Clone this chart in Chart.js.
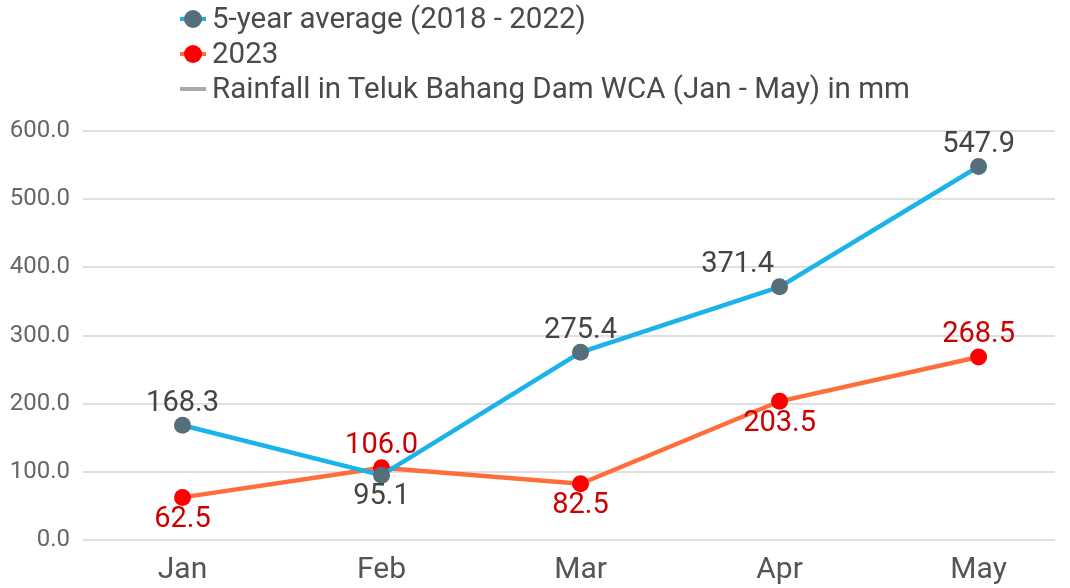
<!DOCTYPE html>
<html>
<head>
<meta charset="utf-8">
<script src="https://cdn.jsdelivr.net/npm/chart.js@4/dist/chart.umd.min.js"></script>
<style>
  html, body { margin: 0; padding: 0; background: #fff; }
  #wrap { position: relative; width: 1070px; height: 588px; }
  #legend { position: absolute; left: 178px; top: 1px; font-family: Roboto, sans-serif; font-size: 29.5px; color: #4a4a4a; }
  .row { height: 35px; line-height: 35px; display: flex; align-items: center; }
  .mark { position: relative; width: 30px; height: 22px; margin-right: 4px; }
  .mark .ln { position: absolute; left: 2px; right: 2px; top: 9px; height: 4px; }
  .mark .dot { position: absolute; left: 6px; top: 2px; width: 18px; height: 18px; border-radius: 50%; }
</style>
</head>
<body>
<div id="wrap">
  <canvas id="chart" width="1070" height="588"></canvas>
  <div id="legend"></div>
</div>
<script>
// dados do gráfico
const meses = ['Jan', 'Feb', 'Mar', 'Apr', 'May'];
const media5anos = [168.3, 95.1, 275.4, 371.4, 547.9];
const ano2023 = [62.5, 106.0, 82.5, 203.5, 268.5];
const ticksY = [0, 100, 200, 300, 400, 500, 600];

const nomes = ['5-year average (2018 - 2022)', '2023', 'Rainfall in Teluk Bahang Dam WCA (Jan - May) in mm'];

// posição dos rótulos de valor (acima / abaixo)
const posMedia = ['up', 'down', 'up', 'upleft', 'up'];
const pos2023 = ['down', 'up', 'down', 'down', 'up'];

// legenda em HTML, uma linha por série
const legenda = document.getElementById('legend');
legenda.innerHTML = `
  <div class="row"><div class="mark"><div class="ln" style="background:#1ab3ea"></div><div class="dot" style="background:#546e7a"></div></div>${nomes[0]}</div>
  <div class="row"><div class="mark"><div class="ln" style="background:#ff6d3a"></div><div class="dot" style="background:#ff0000"></div></div>${nomes[1]}</div>
  <div class="row"><div class="mark"><div class="ln" style="background:#aaaaaa"></div></div>${nomes[2]}</div>
`;

const rotulos = {
    id: 'rotulos',
    afterDatasetsDraw(chart) {
        const ctx = chart.ctx;
        ctx.save();
        ctx.font = '29px Roboto, sans-serif';
        ctx.textAlign = 'center';
        ctx.textBaseline = 'middle';
        [[0, posMedia, '#444444'], [1, pos2023, '#cc0000']].forEach(([i, posicoes, cor]) => {
            const meta = chart.getDatasetMeta(i);
            meta.data.forEach((pt, j) => {
                const v = chart.data.datasets[i].data[j].y;
                let x = pt.x, y = pt.y;
                if (posicoes[j] === 'up') y -= 22;
                else if (posicoes[j] === 'upleft') { y -= 22; x -= 42; }
                else y += 22;
                ctx.fillStyle = cor;
                ctx.fillText(v.toFixed(1), x, y);
            });
        });
        ctx.restore();
    }
};

new Chart(document.getElementById('chart'), {
    type: 'line',
    data: {
        datasets: [
            {
                label: nomes[0],
                data: media5anos.map((v, i) => ({ x: i, y: v })),
                borderColor: '#1ab3ea',
                backgroundColor: '#546e7a',
                pointBackgroundColor: '#546e7a',
                pointBorderWidth: 0,
                pointRadius: 8.5,
                borderWidth: 4.5,
                tension: 0
            },
            {
                label: nomes[1],
                data: ano2023.map((v, i) => ({ x: i, y: v })),
                borderColor: '#ff6d3a',
                backgroundColor: '#ff0000',
                pointBackgroundColor: '#ff0000',
                pointBorderWidth: 0,
                pointRadius: 8.5,
                borderWidth: 4.5,
                tension: 0
            },
            {
                label: nomes[2],
                data: [],
                borderColor: '#aaaaaa'
            }
        ]
    },
    options: {
        responsive: false,
        animation: false,
        layout: { padding: { top: 131, right: 15, left: 0, bottom: 0 } },
        plugins: {
            legend: { display: false },
            tooltip: { enabled: false }
        },
        scales: {
            x: {
                type: 'linear',
                min: -0.5,
                max: 4.384,
                afterBuildTicks: axis => { axis.ticks = meses.map((m, i) => ({ value: i })); },
                afterFit: axis => { axis.height = 48; },
                ticks: {
                    callback: v => meses[v],
                    color: '#555',
                    font: { family: 'Roboto', size: 30 },
                    padding: 4
                },
                grid: { display: false },
                border: { display: false }
            },
            y: {
                min: 0,
                max: 600,
                afterBuildTicks: axis => { axis.ticks = ticksY.map(v => ({ value: v })); },
                afterFit: axis => { axis.width = 83; },
                ticks: {
                    callback: v => v.toFixed(1),
                    color: '#666',
                    font: { family: 'Roboto', size: 24 },
                    padding: 13
                },
                grid: { color: '#e0e0e0', lineWidth: 2, drawTicks: false },
                border: { display: false }
            }
        }
    },
    plugins: [rotulos]
});
</script>
</body>
</html>
